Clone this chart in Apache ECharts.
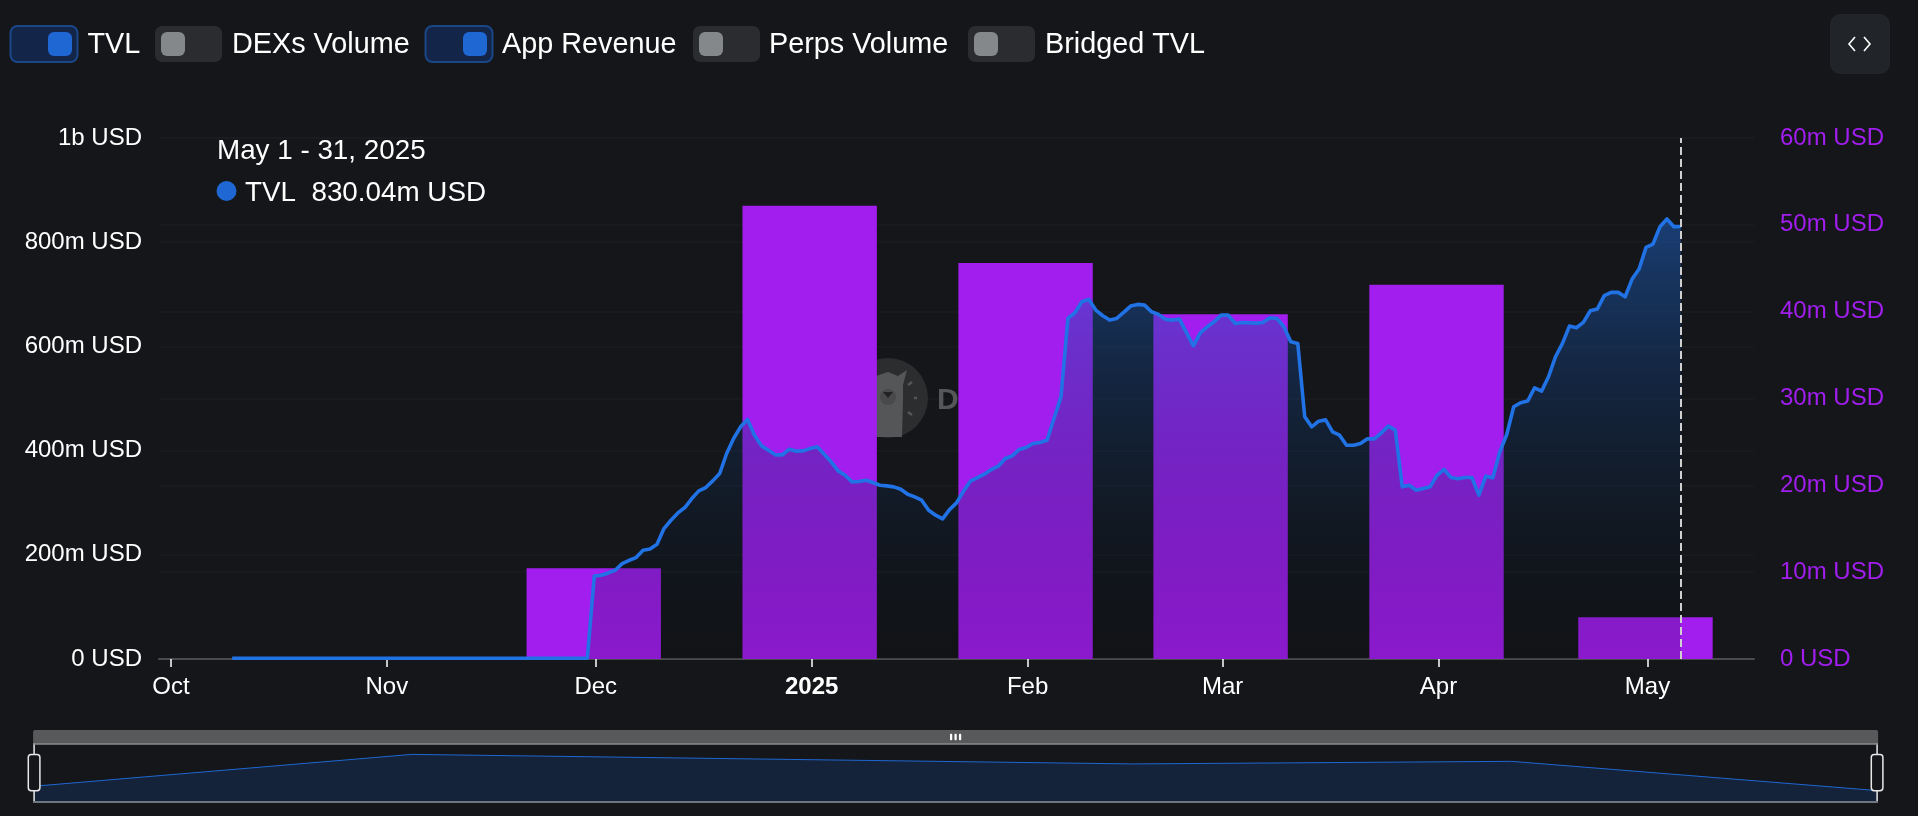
<!DOCTYPE html>
<html><head><meta charset="utf-8">
<style>html,body{margin:0;padding:0;background:#141619}#c{width:1918px;height:816px}</style>
<script src="https://cdn.jsdelivr.net/npm/echarts@6/dist/echarts.min.js"></script>
</head><body><div id="c"></div>
<script>
const BG = '#141619';
const monthLabels = ['Jan','Feb','Mar','Apr','May','Jun','Jul','Aug','Sep','Oct','Nov','Dec'];
const legendItems = [
  {name:'TVL', on:true}, {name:'DEXs Volume', on:false}, {name:'App Revenue', on:true},
  {name:'Perps Volume', on:false}, {name:'Bridged TVL', on:false}
];
const axisStart = '2024-09-29T07:00:00Z';
const axisEnd = '2025-05-16T07:00:00Z';
const revenueDates = ['2024-11-30T17:00:00Z','2024-12-31T17:00:00Z','2025-01-31T17:00:00Z','2025-02-28T17:00:00Z','2025-03-31T17:00:00Z','2025-04-30T17:00:00Z'];
const revenueValues = [10.45,52.2,45.6,39.7,43.1,4.8]; // million USD
const tvlPreDates = ['2024-10-09T19:00:00Z','2024-11-29T19:00:00Z'];
const tvlPreValues = [1.5,1.5]; // million USD
const tvlFirstDate = '2024-11-30T19:00:00Z';
const tvlValues = [ // million USD, one per day
159.4,160.7,165.2,170.3,183.1,189.5,194.6,208.7,211.3,220.3,250.3,266.3,280.4,290.7,308.0,322.7,329.1,341.9,356.0,394.4,
423.2,445.6,459.7,429.6,409.1,400.8,391.8,391.8,402.7,398.9,399.5,404.0,407.2,393.1,378.4,361.1,352.8,340.0,340.6,343.2,
338.7,333.6,332.3,330.4,325.9,316.3,311.2,304.8,285.6,276.0,268.9,286.8,299.6,322.0,341.3,348.3,354.7,363.7,370.1,384.8,
389.9,402.1,405.9,413.6,415.5,420.0,461.6,503.2,653.7,664.6,685.7,690.2,669.7,658.8,650.5,653.7,665.2,677.4,680.6,679.3,
666.5,661.4,651.8,650.5,652.4,626.8,601.2,626.1,637.7,647.3,660.1,660.1,644.1,646.0,645.4,644.7,646.0,655.0,653.7,637.7,
608.9,605.7,464.8,445.6,456.5,459.0,436.0,429.6,410.4,410.4,413.6,422.6,422.6,434.1,446.9,439.2,330.4,333.6,324.0,327.2,
330.4,352.8,363.7,348.4,345.8,348.4,348.4,314.4,350.9,347.7,397.6,430.9,484.1,491.8,495.0,520.6,514.2,541.7,580.1,605.7,
639.0,635.8,646.0,668.5,671.7,697.3,703.7,703.7,695.3,729.3,748.5,790.1,796.5,829.8,844.5,829.8,830.04];
const tooltipTitle = 'May 1 - 31, 2025';
const tooltipLine = 'TVL  830.04m USD';

const DAY = 864e5, M = 1e6;
const t0 = Date.parse(tvlFirstDate);
const tvlData = tvlPreDates.map((d,i)=>[Date.parse(d), tvlPreValues[i]*M])
  .concat(tvlValues.map((v,i)=>[t0+i*DAY, v*M]));
const revData = revenueDates.map((d,i)=>[Date.parse(d), revenueValues[i]*M]);
const lastT = tvlData[tvlData.length-1][0];

const usd = v => v===0 ? '0 USD' : v>=1e9 ? (v/1e9)+'b USD' : (v/1e6)+'m USD';

// ECharts widens a time axis by the bar overflow, so pull the limits in by the same amount
const PLOT_W = 1595, BAR_W = 134.4;
const tStart = Date.parse(axisStart), tEnd = Date.parse(axisEnd);
const barPad = (tEnd-tStart)*(BAR_W/2)/PLOT_W;

// chrome: legend toggles, code button, tooltip text, watermark
const toggleXs = [10.5,155,425.5,693,968];
const labelXs = [87.5,232,502,769,1045];
const g = [];
legendItems.forEach((it,i)=>{
  const x = toggleXs[i];
  g.push({type:'rect',shape:{x:x,y:26,width:67,height:36,r:7},
    style:it.on?{fill:'#13264a',stroke:'#1b4686',lineWidth:2}:{fill:'#2a2c2f'},z:10});
  g.push({type:'rect',shape:{x:it.on?x+37.5:x+6,y:32,width:24,height:24,r:6},
    style:{fill:it.on?'#1f67d2':'#85888a'},z:11});
  g.push({type:'text',x:labelXs[i],y:45,style:{text:it.name,fill:'#fff',font:'28.8px "Liberation Sans"',textVerticalAlign:'middle'},z:11});
});
g.push({type:'rect',shape:{x:1830,y:14,width:60,height:60,r:10},style:{fill:'#212428'},z:10});
g.push({type:'polyline',shape:{points:[[1855,37],[1849,44],[1855,51]]},style:{stroke:'#fff',lineWidth:1.6,fill:null},z:11});
g.push({type:'polyline',shape:{points:[[1864,37],[1870,44],[1864,51]]},style:{stroke:'#fff',lineWidth:1.6,fill:null},z:11});
g.push({type:'text',x:217,y:151.5,style:{text:tooltipTitle,fill:'#fff',font:'27.8px "Liberation Sans"',textVerticalAlign:'middle'},z:20});
g.push({type:'circle',shape:{cx:226.5,cy:191,r:10},style:{fill:'#1f67d2'},z:20});
g.push({type:'text',x:245,y:193,style:{text:tooltipLine,fill:'#fff',font:'27.8px "Liberation Sans"',textVerticalAlign:'middle'},z:20});
// slider frame lines
g.push({type:'line',shape:{x1:33,y1:744,x2:1878,y2:744},style:{stroke:'#8a8b8c',lineWidth:1.5},z:30});
g.push({type:'line',shape:{x1:33,y1:802,x2:1878,y2:802},style:{stroke:'#6f7680',lineWidth:2},z:30});
// watermark (under the series, above the grid lines)
g.push({type:'circle',shape:{cx:888,cy:398,r:40},style:{fill:'#2b2d2f'},z:1});
g.push({type:'polygon',shape:{points:[[868,437],[870,378],[888,372],[898,376],[907,370],[903,385],[903,400],[902,437]]},style:{fill:'#555658'},z:1});
g.push({type:'circle',shape:{cx:888,cy:397,r:8},style:{fill:'#49494b'},z:1});
g.push({type:'polygon',shape:{points:[[883,392],[893,392],[888,398]]},style:{fill:'#222'},z:1});
[[908,385,912,382],[914,398,917,398],[908,412,912,415]].forEach(p=>g.push({type:'line',shape:{x1:p[0],y1:p[1],x2:p[2],y2:p[3]},style:{stroke:'#555658',lineWidth:2.5},z:1}));
g.push({type:'text',x:937,y:401,style:{text:'D',fill:'#555658',font:'bold 30px "Liberation Sans"',textVerticalAlign:'middle'},z:1});

const chart = echarts.init(document.getElementById('c'),null,{renderer:'canvas'});
chart.setOption({
  animation:false,
  useUTC:true,
  backgroundColor:BG,
  textStyle:{fontFamily:'"Liberation Sans"'},
  graphic:{elements:g},
  grid:{left:159,right:164,top:138,bottom:157,containLabel:false},
  xAxis:{type:'time',min:tStart+barPad,max:tEnd-barPad,
    minInterval:28*DAY,splitLine:{show:false},
    axisLine:{lineStyle:{color:'#4a4b4d',width:2}},
    axisTick:{show:true,length:8,lineStyle:{color:'#fff',width:1.5}},
    axisLabel:{color:'#fff',fontSize:24,margin:16,showMinLabel:false,showMaxLabel:false,hideOverlap:false,
      formatter:v=>{const d=new Date(v);return d.getUTCMonth()===0?'{b|'+d.getUTCFullYear()+'}':monthLabels[d.getUTCMonth()];},
      rich:{b:{fontWeight:'bold',fontSize:24,color:'#fff'}}}},
  yAxis:[
    {type:'value',min:0,max:1e9,interval:2e8,axisLine:{show:false},axisTick:{show:false},
      splitLine:{lineStyle:{color:'#1b1d20',width:1.5}},
      axisLabel:{color:'#fff',fontSize:24,margin:17,padding:[5,0,0,0],formatter:usd}},
    {type:'value',min:0,max:60e6,interval:10e6,position:'right',axisLine:{show:false},axisTick:{show:false},
      splitLine:{lineStyle:{color:'#1b1d20',width:1.5}},
      axisLabel:{color:'#a11eee',fontSize:24,margin:26,padding:[5,0,0,0],formatter:usd}}
  ],
  dataZoom:[{type:'slider',xAxisIndex:0,filterMode:'none',start:0,end:100,
    left:27.5,right:45.5,top:730,height:58,
    backgroundColor:'rgba(0,0,0,0)',borderColor:'rgba(0,0,0,0)',borderRadius:0,
    fillerColor:'rgba(0,0,0,0)',
    showDetail:false,brushSelect:true,
    moveHandleSize:14,moveHandleStyle:{color:'#58595b',opacity:1},
    handleStyle:{color:BG,borderColor:'#e8e8e8',borderWidth:1.5},
    dataBackground:{lineStyle:{color:'#1f67d2',width:1,opacity:1},areaStyle:{color:'#15233a',opacity:1}},
    selectedDataBackground:{lineStyle:{color:'#1f67d2',width:1,opacity:1},areaStyle:{color:'#15233a',opacity:1}}
  }],
  series:[
    {name:'App Revenue',type:'bar',yAxisIndex:1,barWidth:BAR_W,data:revData,itemStyle:{color:'#a11eee'},z:2},
    {name:'TVL',type:'line',yAxisIndex:0,data:tvlData,showSymbol:false,symbol:'none',z:3,
      lineStyle:{color:'#2172e5',width:3.6,join:'round'},
      areaStyle:{color:new echarts.graphic.LinearGradient(0,0,0,1,[
        {offset:0,color:'rgba(31,103,210,0.7)'},{offset:1,color:'rgba(0,0,0,0.2)'}])},
      markLine:{silent:true,symbol:'none',animation:false,label:{show:false},
        lineStyle:{color:'#d0d0d0',width:2,type:[8,4]},data:[{xAxis:lastT}]}}
  ]
});
</script></body></html>
